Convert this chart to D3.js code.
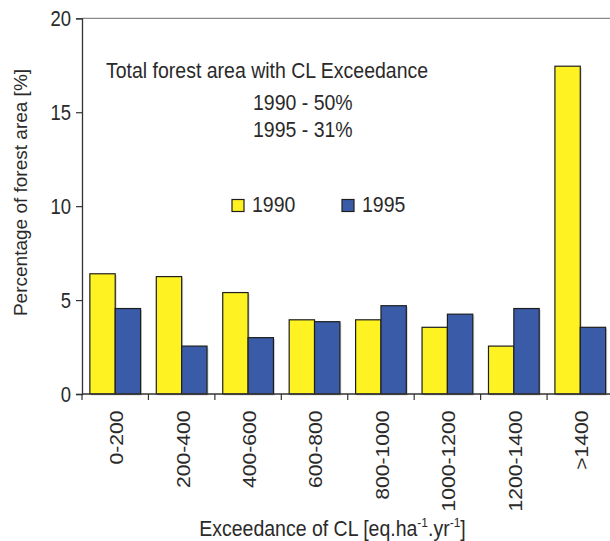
<!DOCTYPE html>
<html><head><meta charset="utf-8">
<script src="https://cdn.jsdelivr.net/npm/d3@7"></script>
<style>
html,body{margin:0;padding:0;background:#fff;}
text{font-family:"Liberation Sans",Arial,Helvetica,sans-serif;fill:#2a2a2a;}
</style></head>
<body><svg id="c" width="610" height="541"></svg>
<script>
const categories = ["0-200","200-400","400-600","600-800","800-1000","1000-1200","1200-1400",">1400"];
const series = ["1990","1995"];
const v1990 = [6.4, 6.25, 5.4, 3.95, 3.95, 3.55, 2.55, 17.45];
const v1995 = [4.55, 2.55, 3.0, 3.85, 4.7, 4.25, 4.55, 3.55];
const yTicks = [0, 5, 10, 15, 20];
const colors = {"1990":"#fff222","1995":"#3a5ba8"};
const noteLines = ["Total forest area with CL Exceedance","1990 - 50%","1995 - 31%"];

(function(){
const svg = d3.select("#c");
const pL = 82, pR = 613.5, pT = 18.3, pB = 394;
const SY = 1.1; // vertical stretch of glyphs in the reference
const x = d3.scaleBand().domain(categories).range([pL, pR]).padding(0);
const xs = d3.scaleBand().domain(series).range([0, x.bandwidth()]).paddingInner(0).paddingOuter(0.31);
const y = d3.scaleLinear().domain([0, 20]).range([pB, pT]);

const rows = categories.map((c,i)=>({cat:c, vals:[{s:"1990",v:v1990[i]},{s:"1995",v:v1995[i]}]}));

// top border
svg.append("line").attr("x1",pL).attr("x2",610).attr("y1",y(20)).attr("y2",y(20))
  .attr("stroke","#8a8a8a").attr("stroke-width",1.2);

// bars
const g = svg.append("g");
const grp = g.selectAll("g.grp").data(rows).join("g").attr("transform",d=>`translate(${x(d.cat)},0)`);
grp.selectAll("rect.sh").data(d=>d.vals).join("rect").attr("class","sh")
  .attr("x",d=>xs(d.s)+1.5).attr("y",d=>y(d.v)+1.5)
  .attr("width",xs.bandwidth()).attr("height",d=>pB-y(d.v))
  .attr("fill","#b8b8b8").attr("opacity",0.6);
grp.selectAll("rect.bar").data(d=>d.vals).join("rect").attr("class","bar")
  .attr("x",d=>xs(d.s)).attr("y",d=>y(d.v))
  .attr("width",xs.bandwidth()).attr("height",d=>pB-y(d.v))
  .attr("fill",d=>colors[d.s]).attr("stroke","#1e1e1e").attr("stroke-width",1.2);

// y axis
const ya = svg.append("g").attr("transform",`translate(${pL},0)`)
  .call(d3.axisLeft(y).tickValues(yTicks).tickSize(6).tickPadding(5));
ya.select(".domain").attr("stroke","#333").attr("stroke-width",1.3);
ya.selectAll(".tick line").attr("stroke","#333").attr("stroke-width",1.2);
ya.selectAll(".tick text").attr("font-size",18.5).attr("fill","#2a2a2a")
  .attr("font-family","Liberation Sans, Arial, sans-serif")
  .attr("dy",null).attr("x",null)
  .attr("transform",`translate(-11,0) scale(1,${SY*1.04}) translate(0,6.6)`);

// x axis baseline and ticks at band boundaries
svg.append("line").attr("x1",pL).attr("x2",610).attr("y1",pB).attr("y2",pB)
  .attr("stroke","#333").attr("stroke-width",1.3);
const bounds = categories.map(c=>x(c)).concat([x(categories[categories.length-1])+x.bandwidth()]);
svg.selectAll("line.xt").data(bounds).join("line").attr("class","xt")
  .attr("x1",d=>d).attr("x2",d=>d).attr("y1",pB).attr("y2",pB+6)
  .attr("stroke","#333").attr("stroke-width",1.2);

// x tick labels (rotated)
svg.selectAll("text.xl").data(categories).join("text").attr("class","xl")
  .attr("transform",d=>`translate(${x(d)+x.bandwidth()/2+1},410.5) scale(1,${SY}) rotate(-90)`)
  .attr("text-anchor","end").attr("dy","0.36em")
  .attr("font-size",19.2).text(d=>d);

// y axis title
svg.append("text").attr("transform","translate(27,192.5) rotate(-90)")
  .attr("text-anchor","middle").attr("font-size",19).text("Percentage of forest area [%]");

// helper for horizontal stretched text
function htext(px, py, size){
  return svg.append("text").attr("transform",`translate(${px},${py}) scale(1,${SY})`).attr("font-size",size);
}

// x axis title with superscripts
const xt = htext(332.5, 536, 19.5).attr("text-anchor","middle");
xt.append("tspan").text("Exceedance of CL [eq.ha");
xt.append("tspan").attr("font-size",12).attr("dy",-8).text("-1");
xt.append("tspan").attr("dy",8).text(".yr");
xt.append("tspan").attr("font-size",12).attr("dy",-8).text("-1");
xt.append("tspan").attr("dy",8).text("]");

// annotation
htext(106, 77.7, 19.5).text(noteLines[0]);
htext(253, 110, 19.5).text(noteLines[1]);
htext(253, 136.7, 19.5).text(noteLines[2]);

// legend
const lg = [{s:"1990",x:232},{s:"1995",x:342}];
svg.selectAll("rect.lg").data(lg).join("rect").attr("class","lg")
  .attr("x",d=>d.x).attr("y",199.5).attr("width",12).attr("height",12)
  .attr("fill",d=>colors[d.s]).attr("stroke","#1e1e1e").attr("stroke-width",1.2);
lg.forEach(d=>htext(d.x+20, 212.3, 19.5).text(d.s));
})();
</script></body></html>
